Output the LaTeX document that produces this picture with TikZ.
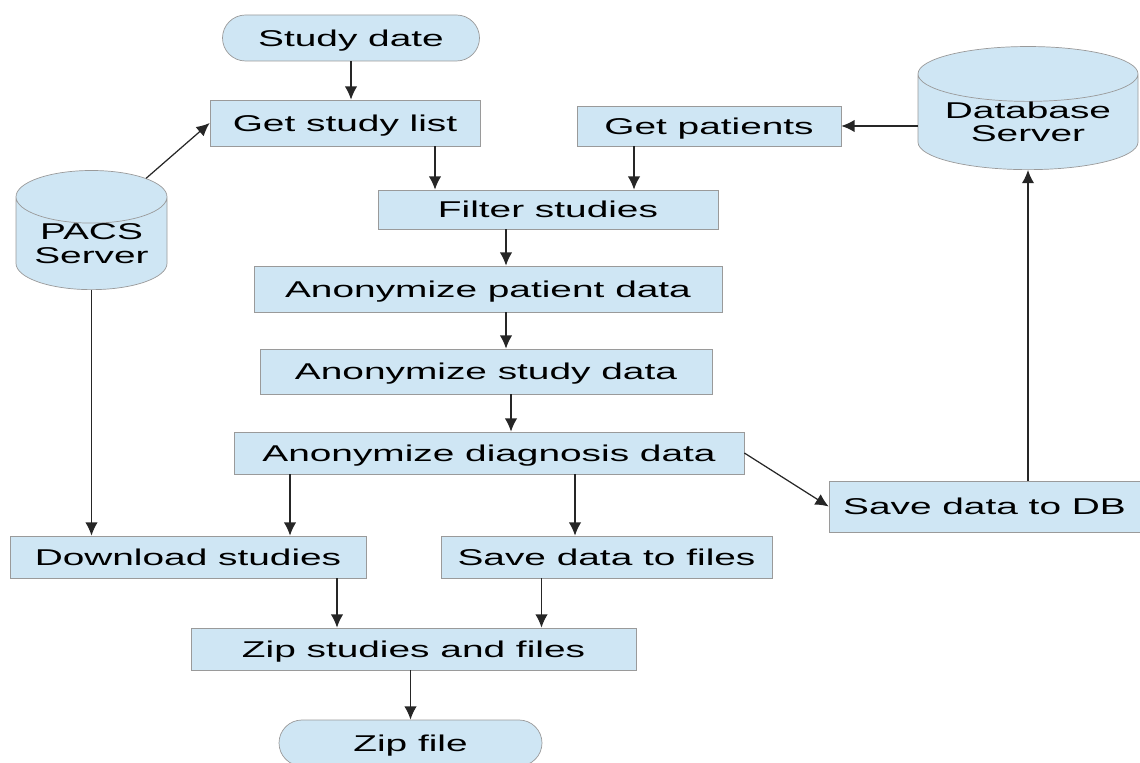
\documentclass[tikz,border=0pt]{standalone}
\usepackage{fontspec}
\setmainfont{Liberation Sans}[FakeStretch=1.7]
\usetikzlibrary{shapes.geometric,shapes.misc,arrows.meta}

\definecolor{boxfill}{HTML}{CFE6F4}
\definecolor{boxline}{HTML}{9A9A9A}

\def \pix {0.02cm}

\tikzset{
  stepbox/.style 2 args={draw=boxline, fill=boxfill, inner sep=0pt,
    text height=9.3pt, text depth=0pt,
    minimum width=#1*\pix, minimum height=#2*\pix, font=\fontsize{13}{15}\selectfont},
  termbox/.style 2 args={stepbox={#1}{#2}, rounded rectangle},
  server/.style n args={3}{draw=boxline, fill=boxfill, inner sep=0pt, cylinder,
    shape border rotate=90, aspect=#3, align=center, anchor=south,
    minimum width=#1*\pix, minimum height=#2*\pix, font=\fontsize{13}{13.5}\selectfont},
  arr/.style={-{Latex[length=7.5pt,width=7pt]}, line width=0.7pt, draw=black!85}
}

\begin{document}
\begin{tikzpicture}[x=0.02cm, y=-0.02cm]
\useasboundingbox (0,0) rectangle (1140,763);

% nodes
\node[termbox={257}{46}] (date) at (351,38) {Study date};
\node[stepbox={270}{46}] (list) at (345,123) {Get study list};
\node[stepbox={264}{40}] (patients) at (709,126) {Get patients};
\node[server={220}{120}{0.33}] (db) at (1028,170) {Database\\Server};
\node[server={151}{118}{0.46}] (pacs) at (91.5,290) {PACS\\Server};
\node[stepbox={340}{39}] (filter) at (548,209.5) {Filter studies};
\node[stepbox={468}{46}] (anonpat) at (488,289) {Anonymize patient data};
\node[stepbox={452}{45}] (anonstudy) at (486,371.5) {Anonymize study data};
\node[stepbox={510}{42}] (anondiag) at (489,453) {Anonymize diagnosis data};
\node[stepbox={311}{51}] (savedb) at (984.5,506.5) {Save data to DB};
\node[stepbox={356}{42}] (download) at (188,557) {Download studies};
\node[stepbox={331}{42}] (savefiles) at (606.5,557) {Save data to files};
\node[stepbox={445}{42}] (zip) at (413.5,649) {Zip studies and files};
\node[termbox={263}{46}] (zipfile) at (410.5,743) {Zip file};

% connectors
\draw[arr] (date.south) -- (date.south |- list.north);
\draw[arr] (pacs.50) -- (list.west);
\draw[arr] ([xshift=90*\pix]list.south) -- ([xshift=90*\pix]list.south |- filter.north);
\draw[arr] ([xshift=-75*\pix]patients.south) -- ([xshift=-75*\pix]patients.south |- filter.north);
\draw[arr] (db.west |- patients.east) -- (patients.east);
\draw[arr] ([xshift=-42*\pix]filter.south) -- ([xshift=-42*\pix]filter.south |- anonpat.north);
\draw[arr] ([xshift=18*\pix]anonpat.south) -- ([xshift=18*\pix]anonpat.south |- anonstudy.north);
\draw[arr] ([xshift=25*\pix]anonstudy.south) -- ([xshift=25*\pix]anonstudy.south |- anondiag.north);
\draw[arr] ([xshift=-199*\pix]anondiag.south) -- ([xshift=-199*\pix]anondiag.south |- download.north);
\draw[arr] ([xshift=86*\pix]anondiag.south) -- ([xshift=86*\pix]anondiag.south |- savefiles.north);
\draw[arr] (anondiag.east) -- (savedb.west);
\draw[arr] (db.south |- savedb.north) -- (db.south);
\draw[arr] (pacs.south) -- (pacs.south |- download.north);
\draw[arr] ([xshift=149*\pix]download.south) -- ([xshift=149*\pix]download.south |- zip.north);
\draw[arr] ([xshift=-65*\pix]savefiles.south) -- ([xshift=-65*\pix]savefiles.south |- zip.north);
\draw[arr] (zipfile.north |- zip.south) -- (zipfile.north);
\end{tikzpicture}
\end{document}
